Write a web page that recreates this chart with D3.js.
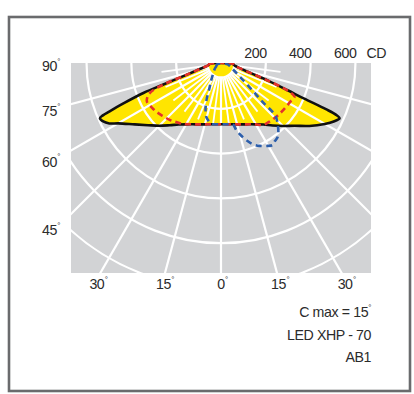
<!DOCTYPE html>
<html><head><meta charset="utf-8">
<script src="https://cdn.jsdelivr.net/npm/d3@7"></script>
<style>html,body{margin:0;padding:0;background:#fff;} svg{display:block;font-family:"Liberation Sans",Arial,Helvetica,sans-serif;}</style>
</head><body><svg id="c" width="414" height="394"></svg>
<script>
// ---------- data ----------
const ringValues = [200, 400, 600, 800, 1000];
const ringLabels = ["200", "400", "600"];
const unitLabel = "CD";
const hubValue = 60;
const majorSpokes = [-75, -60, -45, -30, -15, 0, 15, 30, 45, 60, 75];
const minorSpokes = [-82.5, -67.5, -52.5, -37.5, -22.5, -7.5, 7.5, 22.5, 37.5, 52.5, 67.5, 82.5];
const minorSpokeEnd = 268;
const sideTicks = [90, 75, 60, 45];
const bottomTicks = [-30, -15, 0, 15, 30];

// C0-C180 plane (solid black, yellow fill): angle from nadir (deg), intensity (cd)
const blackAngles = [-90, -85, -80, -75, -72.5, -70.5, -69.5, -68, -67, -66.5, -65.9, -64, -62, -60, -55, -50, -45, -40, -35, -30, -25, -20, -15, -10, -5, 0,
  5, 10, 15, 20, 25, 30, 35, 40, 45, 50, 55, 60, 63, 65.4, 66.2, 66.7, 67.4, 68.5, 70.5, 73, 77, 83, 90];
const blackValues = [52, 56, 72, 115, 165, 270, 370, 470, 540, 575, 592, 585, 565, 530, 470, 425, 390, 357, 330, 311, 297, 287, 279, 273, 270, 269,
  270, 273, 279, 287, 297, 311, 330, 358, 391, 429, 482, 535, 565, 582, 560, 510, 400, 320, 225, 140, 88, 62, 53];

// C90-C270 plane (red dashed)
const redAngles = [-90, -85, -80, -75, -72.5, -70.6, -67.7, -63.1, -58, -53.6, -48, -42.6, -37, -32.5, -25, -20, -15, -10, -5, 0,
  5, 10, 15, 20, 25, 30, 34.4, 40, 46.3, 51, 56.8, 62, 66, 68.5, 70.5, 73, 77, 83, 90];
const redValues = [52, 56, 72, 115, 165, 259, 345, 371, 365, 359, 348, 339, 326, 317, 297, 287, 279, 273, 270, 269,
  270, 273, 279, 287, 297, 311, 330, 336, 341, 344, 348, 353, 359, 310, 225, 140, 88, 62, 53];

// C max plane (blue dashed)
const blueAngles = [-90, -75, -64, -50, -37.5, -31, -25.6, -21.6, -18.1, -15.7, -12, -9.3, -5, 0, 5, 10.9, 13, 15.5, 18.3, 21.5, 25.2, 29.7, 32.6, 34.5, 38, 43, 46.6, 47.5, 49.9, 54.9, 62.6, 77.5, 90];
const blueValues = [15, 20, 24, 38, 60, 85, 119, 179, 222, 244, 262, 271, 270, 269, 270, 273, 302, 330, 357, 384, 404, 421, 429, 421, 412, 372, 332, 256, 184, 111, 68, 41, 25];

const infoLines = ["C max = 15", "LED XHP - 70", "AB1"];
const infoDegree = [true, false, false];

// ---------- layout ----------
const svg = d3.select("#c");
const panel = {x: 71, y: 63, w: 300, h: 210};
const cx = panel.x + panel.w / 2, cy = panel.y + 1;
const r = d3.scaleLinear().domain([0, 1000]).range([0, 224]);
const textColor = "#2b2b2b";
const fs = 14.2;

svg.append("rect").attr("x", 9).attr("y", 17).attr("width", 401).attr("height", 374)
  .attr("fill", "#fff").attr("stroke", "#6a6b6d").attr("stroke-width", 2.6);

const defs = svg.append("defs");
defs.append("clipPath").attr("id", "pc").append("rect")
  .attr("x", panel.x).attr("y", panel.y).attr("width", panel.w).attr("height", panel.h);

const P = svg.append("g").attr("clip-path", "url(#pc)");
P.append("rect").attr("x", panel.x).attr("y", panel.y).attr("width", panel.w).attr("height", panel.h).attr("fill", "#d2d3d5");

const G = P.append("g").attr("transform", `translate(${cx},${cy})`);
const rad = a => (180 - a) * Math.PI / 180;
const line = d3.lineRadial().angle(d => rad(d[0])).radius(d => r(d[1])).curve(d3.curveCatmullRomClosed.alpha(0.5));
const zipd = (a, v) => a.map((x, i) => [x, v[i]]);

const blackData = zipd(blackAngles, blackValues);
G.append("path").attr("d", line(blackData)).attr("fill", "#ffe500").attr("stroke", "none");

// grid
const grid = G.append("g").attr("stroke", "#fff").attr("fill", "none");
[hubValue, ...ringValues].forEach(v => grid.append("circle").attr("r", r(v)).attr("stroke-width", 2.2));
const pt = (a, v) => [r(v) * Math.sin(a * Math.PI / 180), r(v) * Math.cos(a * Math.PI / 180)];
majorSpokes.forEach(a => {
  const p0 = pt(a, hubValue), p1 = pt(a, 1400);
  grid.append("line").attr("x1", p0[0]).attr("y1", p0[1]).attr("x2", p1[0]).attr("y2", p1[1]).attr("stroke-width", 2.2);
});
minorSpokes.forEach(a => {
  const p0 = pt(a, hubValue), p1 = pt(a, minorSpokeEnd);
  grid.append("line").attr("x1", p0[0]).attr("y1", p0[1]).attr("x2", p1[0]).attr("y2", p1[1]).attr("stroke-width", 1.8);
});

G.append("path").attr("d", line(blackData)).attr("fill", "none").attr("stroke", "#111").attr("stroke-width", 2.6);
G.append("path").attr("d", line(zipd(redAngles, redValues))).attr("fill", "none")
  .attr("stroke", "#e4322b").attr("stroke-width", 2.6).attr("stroke-dasharray", "6,4");
G.append("path").attr("d", line(zipd(blueAngles, blueValues))).attr("fill", "none")
  .attr("stroke", "#2c5eab").attr("stroke-width", 2.6).attr("stroke-dasharray", "6,4.5");

// ---------- labels ----------
const T = svg.append("g").attr("fill", textColor).attr("font-size", fs).attr("letter-spacing", -0.4);
function ring(xx, yy) {
  T.append("text").attr("x", xx).attr("y", yy).attr("font-size", 8).text("°");
}
// top intensity labels
let lastEnd = 0;
ringLabels.forEach((s, i) => {
  const xe = cx + r(ringValues[i]) + 1;
  T.append("text").attr("x", xe).attr("y", 58).attr("text-anchor", "end").text(s);
  lastEnd = xe;
});
T.append("text").attr("x", lastEnd + 10).attr("y", 58).text(unitLabel);

// side labels
const labelDx = 162;
sideTicks.forEach(a => {
  const yy = cy + labelDx / Math.tan(a * Math.PI / 180) + (a === 90 ? 2 : 4);
  T.append("text").attr("x", 57).attr("y", yy).attr("dy", "0.35em").attr("text-anchor", "end").text(a);
  ring(57.3, yy - 2.2);
});
// bottom labels
const labelDy = 215;
bottomTicks.forEach(a => {
  const xx = cx + labelDy * Math.tan(a * Math.PI / 180);
  const t = T.append("text").attr("x", xx).attr("y", 289).attr("text-anchor", "middle").text(Math.abs(a));
  const w = t.node().getComputedTextLength();
  ring(xx + w / 2 + 0.3, 282);
});
// info
const infoY = [317, 340, 362];
infoLines.forEach((s, i) => {
  const t = T.append("text").attr("x", 371).attr("y", infoY[i]).attr("text-anchor", "end").text(s);
  if (infoDegree[i]) t.append("tspan").attr("font-size", 8).attr("dy", -7).text("°");
});
</script></body></html>
